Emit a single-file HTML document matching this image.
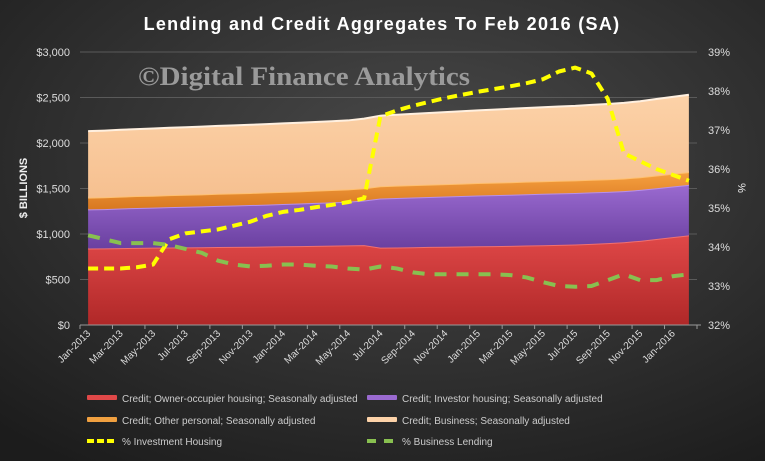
<!DOCTYPE html>
<html><head><meta charset="utf-8"><style>
body{margin:0;width:765px;height:461px;overflow:hidden;background:#2b2b2b}
svg{display:block}
text{font-family:"Liberation Sans",sans-serif}
</style></head><body>
<svg id="c" width="765" height="461">
<defs>
<radialGradient id="bg" cx="0.55" cy="0.35" r="0.8"><stop offset="0" stop-color="#4a4a4a"/><stop offset="1" stop-color="#1c1c1c"/></radialGradient>
<linearGradient id="gR" x1="0" y1="0" x2="0" y2="1"><stop offset="0" stop-color="#e04848"/><stop offset="1" stop-color="#b02828"/></linearGradient>
<linearGradient id="gP" x1="0" y1="0" x2="0" y2="1"><stop offset="0" stop-color="#9a6ad0"/><stop offset="1" stop-color="#6a40a0"/></linearGradient>
<linearGradient id="gO" x1="0" y1="0" x2="0" y2="1"><stop offset="0" stop-color="#f6a040"/><stop offset="1" stop-color="#d87820"/></linearGradient>
<linearGradient id="gB" x1="0" y1="0" x2="0" y2="1"><stop offset="0" stop-color="#fcd2a8"/><stop offset="1" stop-color="#f6c090"/></linearGradient>
</defs>
<rect width="765" height="461" fill="url(#bg)"/>
<text x="382" y="30" text-anchor="middle" font-size="18" font-weight="bold" fill="#fff" style="letter-spacing:1.3px">Lending and Credit Aggregates To Feb 2016 (SA)</text>
<g id="grid"></g>
<g id="areas"></g>
<text x="138" y="85" font-size="26" font-weight="bold" fill="#9a9a9a" textLength="332" lengthAdjust="spacingAndGlyphs" style="font-family:'Liberation Serif',serif">©Digital Finance Analytics</text>
<g id="lines"></g>
<g id="axes"></g>
<text transform="translate(27,188) rotate(-90)" text-anchor="middle" font-size="11" font-weight="bold" fill="#eee">$ BILLIONS</text>
<text transform="translate(738,188) rotate(90)" text-anchor="middle" font-size="11" fill="#eee">%</text>
<g id="legend"></g>
</svg>
<script>
const months=["Jan","Feb","Mar","Apr","May","Jun","Jul","Aug","Sep","Oct","Nov","Dec"];
const categories=[];for(let i=0;i<38;i++)categories.push(months[i%12]+"-"+(2013+Math.floor(i/12)));
const owner=[840,842,845,848,850,852,853,855,857,858,860,862,865,867,870,872,875,878,850,852,855,858,860,862,865,867,870,873,876,880,885,892,900,910,925,945,965,985];
const investor=[430,432,435,438,440,443,446,449,452,455,458,461,464,468,472,476,480,490,540,543,546,549,552,555,558,560,562,564,566,567,566,565,563,561,560,558,557,555];
const other=[130,130,131,131,131,132,132,132,133,133,133,134,134,134,134,135,135,135,135,136,136,136,136,137,137,137,137,138,138,138,138,139,139,139,139,140,140,140];
const business=[730,732,734,736,738,740,742,744,746,748,749,750,752,753,755,756,758,765,775,779,783,787,791,795,799,803,807,810,813,816,819,823,827,831,835,840,845,850];
const invPct=[33.45,33.45,33.45,33.48,33.55,34.2,34.35,34.4,34.45,34.55,34.65,34.8,34.9,34.95,35.02,35.08,35.15,35.25,37.35,37.5,37.62,37.72,37.82,37.9,37.98,38.05,38.12,38.2,38.3,38.5,38.6,38.45,37.8,36.4,36.2,36.0,35.85,35.7];
const busPct=[34.3,34.2,34.1,34.1,34.1,34.05,33.95,33.85,33.65,33.55,33.5,33.52,33.55,33.55,33.52,33.5,33.45,33.42,33.5,33.45,33.35,33.3,33.3,33.3,33.3,33.3,33.28,33.22,33.1,33.0,32.98,33.0,33.15,33.3,33.15,33.15,33.25,33.3];
const leftTicks=["$0","$500","$1,000","$1,500","$2,000","$2,500","$3,000"];
const rightTicks=["32%","33%","34%","35%","36%","37%","38%","39%"];
const NS="http://www.w3.org/2000/svg";
const X0=80,X1=697,Y0=325,Y1=52;
const bw=(X1-X0)/categories.length;
const xs=i=>X0+bw*(i+0.5);
const yl=v=>Y0-(v/3000)*(Y0-Y1);
const yr=v=>Y0-((v-32)/7)*(Y0-Y1);
function mk(t,a,p){const e=document.createElementNS(NS,t);for(const k in a)e.setAttribute(k,a[k]);p.appendChild(e);return e;}
const grid=document.getElementById('grid'),axes=document.getElementById('axes');
leftTicks.forEach((t,i)=>{const y=yl(i*500);
 if(i>0){const g=mk('line',{x1:X0,x2:X1,y1:y,y2:y,stroke:'#5a5a5a','stroke-width':1},grid);}
 const tx=mk('text',{x:70,y:y+4,'text-anchor':'end','font-size':11,fill:'#ddd'},axes);tx.textContent=t;
 });
rightTicks.forEach((t,i)=>{const y=yr(32+i);
 const tx=mk('text',{x:708,y:y+4,'font-size':11,fill:'#ddd'},axes);tx.textContent=t;
 });
mk('line',{x1:X0,x2:X1+4,y1:Y0,y2:Y0,stroke:'#999'},axes);
for(let i=0;i<=categories.length;i+=2){mk('line',{x1:X0+bw*i,x2:X0+bw*i,y1:Y0,y2:Y0+4,stroke:'#999'},axes);}
categories.forEach((c,i)=>{if(i%2)return;const x=xs(i)+3,y=Y0+9;
 const tx=mk('text',{x:x,y:y,'text-anchor':'end','font-size':10,fill:'#ddd',transform:`rotate(-45 ${x} ${y})`},axes);tx.textContent=c;
 });
const areas=document.getElementById('areas');
const series=[[owner,'url(#gR)','#f07070','area-owner-occupier'],[investor,'url(#gP)','#b890e8','area-investor'],[other,'url(#gO)','#ffc070','area-other-personal'],[business,'url(#gB)','#fff0e0','area-business']];
let base=owner.map(()=>0);
series.forEach(([vals,fill,edge,name])=>{
 const top=vals.map((v,i)=>base[i]+v);
 let d=top.map((v,i)=>(i?'L':'M')+xs(i)+','+yl(v)).join(' ');
 for(let i=top.length-1;i>=0;i--)d+=' L'+xs(i)+','+yl(base[i]);
 const p=mk('path',{d:d+'Z',fill:fill},areas);
 
 mk('polyline',{points:top.map((v,i)=>xs(i)+','+yl(v)).join(' '),fill:'none',stroke:edge,'stroke-width':2},areas);
 base=top;});
const lines=document.getElementById('lines');
const l1=mk('polyline',{points:invPct.map((v,i)=>xs(i)+','+yr(v)).join(' '),fill:'none',stroke:'#ffff00','stroke-width':4,'stroke-dasharray':'10 6','stroke-linejoin':'round'},lines);

const l2=mk('polyline',{points:busPct.map((v,i)=>xs(i)+','+yr(v)).join(' '),fill:'none',stroke:'#88c050','stroke-width':4,'stroke-dasharray':'12 10','stroke-linejoin':'round'},lines);

const leg=document.getElementById('legend');
const items=[[87,398,'#e04848','Credit; Owner-occupier housing; Seasonally adjusted',0],[367,398,'#9a6ad0','Credit; Investor housing; Seasonally adjusted',0],[87,420,'#f0a040','Credit; Other personal; Seasonally adjusted',0],[367,420,'#fcd2a8','Credit; Business; Seasonally adjusted',0],[87,441,'#ffff00','% Investment Housing',1],[367,441,'#88c050','% Business Lending',2]];
items.forEach(([x,y,c,t,k])=>{const g=mk('g',{},leg);
 
 if(k===0)mk('rect',{x:x,y:y-3,width:30,height:5,fill:c,rx:1},g);
 else mk('line',{x1:x,x2:x+30,y1:y,y2:y,stroke:c,'stroke-width':4,'stroke-dasharray':k===1?'7 3':'9 8'},g);
 const tx=mk('text',{x:x+35,y:y+4,'font-size':10,fill:'#ccc'},g);tx.textContent=t;});
</script>
</body></html>
